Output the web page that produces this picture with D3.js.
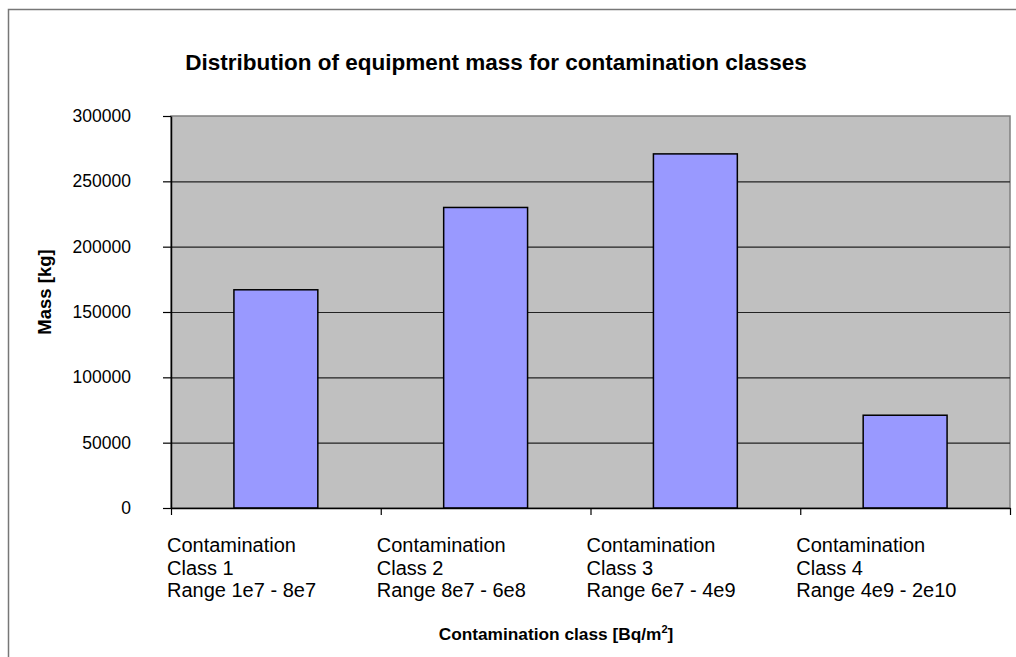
<!DOCTYPE html>
<html>
<head>
<meta charset="utf-8">
<script src="https://cdn.jsdelivr.net/npm/d3@7"></script>
<style>
  body { margin: 0; background: #fff; }
  svg text { font-family: "Liberation Sans", Arial, sans-serif; fill: #000; }
  .title { font-size: 22.5px; font-weight: bold; }
  .axisTitle { font-size: 17.3px; font-weight: bold; }
  .yTitle { font-size: 18.5px; font-weight: bold; }
  .yAxis text { font-size: 17.5px; }
  .catLabel { font-size: 20px; }
</style>
</head>
<body>
<svg id="chart"></svg>
<script>
// chart data
const categories = ["Class 1", "Class 2", "Class 3", "Class 4"];
const catLines = [
    ["Contamination", "Class 1", "Range 1e7 - 8e7"],
    ["Contamination", "Class 2", "Range 8e7 - 6e8"],
    ["Contamination", "Class 3", "Range 6e7 - 4e9"],
    ["Contamination", "Class 4", "Range 4e9 - 2e10"]
];
const mass = [167000, 230000, 271000, 71000];
const yTicks = [0, 50000, 100000, 150000, 200000, 250000, 300000];

const width = 1016, height = 657;
const plot = {left: 171, right: 1010, top: 116, bottom: 508};

let svg = d3.select("#chart")
    .attr("width", width)
    .attr("height", height);

// outer chart border (left and top edges visible)
svg.append("rect")
    .attr("x", 8.5)
    .attr("y", 9.5)
    .attr("width", width + 20)
    .attr("height", height + 20)
    .attr("fill", "none")
    .attr("stroke", "#777")
    .attr("stroke-width", 1.5);

let y = d3.scaleLinear()
    .domain([0, 300000])
    .range([plot.bottom, plot.top]);

let x = d3.scaleBand()
    .domain(categories)
    .range([plot.left, plot.right])
    .paddingInner(0.6)
    .paddingOuter(0.3);

let xEdge = d3.scaleLinear()
    .domain([0, categories.length])
    .range([plot.left, plot.right]);

// plot area
svg.append("rect")
    .attr("x", plot.left)
    .attr("y", plot.top)
    .attr("width", plot.right - plot.left)
    .attr("height", plot.bottom - plot.top)
    .attr("fill", "#c0c0c0")
    .attr("stroke", "#808080")
    .attr("stroke-width", 1.5);

// gridlines
svg.append("g")
    .attr("transform", "translate(" + plot.left + ",0)")
    .call(d3.axisLeft(y)
        .tickValues(yTicks.filter(d => d > 0 && d < 300000))
        .tickSize(-(plot.right - plot.left))
        .tickFormat(""))
    .call(g => g.select(".domain").remove())
    .selectAll("line")
    .attr("stroke", "#222")
    .attr("stroke-width", 1.2);

// bars
svg.selectAll(".bar")
    .data(mass)
    .enter().append("rect")
    .attr("class", "bar")
    .attr("x", (d, i) => x(categories[i]))
    .attr("y", d => y(d))
    .attr("width", x.bandwidth())
    .attr("height", d => y(0) - y(d))
    .attr("fill", "#9999ff")
    .attr("stroke", "#000")
    .attr("stroke-width", 1.5);

// y axis
let yAxis = svg.append("g")
    .attr("class", "yAxis")
    .attr("transform", "translate(" + plot.left + ",0)")
    .call(d3.axisLeft(y)
        .tickValues(yTicks)
        .tickSize(8)
        .tickPadding(32)
        .tickSizeOuter(0)
        .tickFormat(d => d));
yAxis.select(".domain").attr("stroke", "#000").attr("stroke-width", 1.5);
yAxis.selectAll("line").attr("stroke", "#000").attr("stroke-width", 1.2);
yAxis.selectAll("text").attr("fill", "#000").attr("font-family", null).attr("font-size", null);

// x axis
let xAxis = svg.append("g")
    .attr("transform", "translate(0," + plot.bottom + ")")
    .call(d3.axisBottom(xEdge)
        .tickValues(d3.range(categories.length + 1))
        .tickSize(7)
        .tickSizeOuter(0)
        .tickFormat(""));
xAxis.select(".domain").attr("stroke", "#000").attr("stroke-width", 1.5);
xAxis.selectAll("line").attr("stroke", "#000").attr("stroke-width", 1.2);

// category labels, three lines each
let labels = svg.selectAll(".catLabel")
    .data(catLines)
    .enter().append("text")
    .attr("class", "catLabel")
    .attr("x", (d, i) => xEdge(i) - 4)
    .attr("y", 552);
labels.selectAll("tspan")
    .data(d => d)
    .enter().append("tspan")
    .attr("x", function() { return d3.select(this.parentNode).attr("x"); })
    .attr("dy", (d, i) => i === 0 ? 0 : 22.5)
    .text(d => d);

// title
svg.append("text")
    .attr("class", "title")
    .attr("x", 496)
    .attr("y", 70)
    .attr("text-anchor", "middle")
    .text("Distribution of equipment mass for contamination classes");

// y axis title
svg.append("text")
    .attr("class", "yTitle")
    .attr("transform", "translate(51,292) rotate(-90)")
    .attr("text-anchor", "middle")
    .text("Mass [kg]");

// x axis title
let xTitle = svg.append("text")
    .attr("class", "axisTitle")
    .attr("x", 556)
    .attr("y", 640)
    .attr("text-anchor", "middle");
xTitle.append("tspan").text("Contamination class [Bq/m");
xTitle.append("tspan").attr("dy", -7).style("font-size", "11px").text("2");
xTitle.append("tspan").attr("dy", 7).text("]");
</script>
</body>
</html>
